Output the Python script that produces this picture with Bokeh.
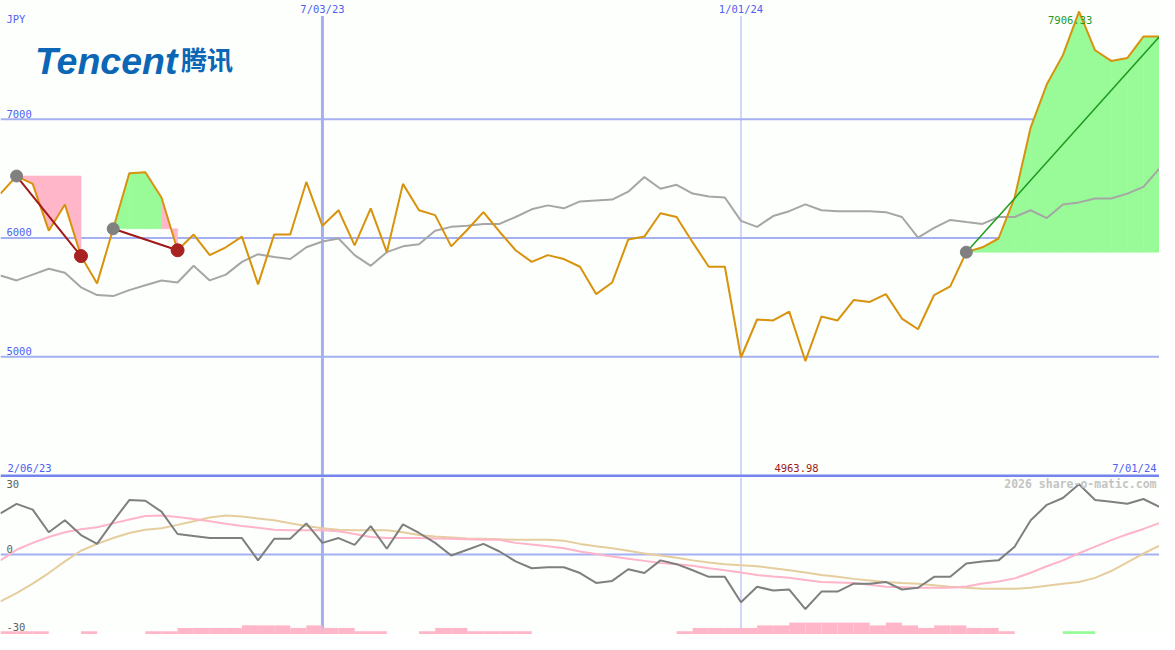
from bokeh.plotting import figure
from bokeh.layouts import column
from bokeh.embed import file_html
from bokeh.resources import INLINE
from bokeh.core.properties import value
from bokeh.models import Range1d

# ---------------- data ----------------
N = 73
idx = list(range(N))

price = [6374, 6522, 6456, 6062, 6283, 5848, 5618, 6078, 6546, 6554,
         6341, 5897, 6029, 5856, 5922, 6012, 5610, 6029, 6029, 6472,
         6103, 6234, 5938, 6250, 5881, 6456, 6234, 6193, 5930, 6070,
         6218, 6053, 5897, 5799, 5856, 5823, 5758, 5528, 5626, 5988,
         6012, 6209, 6177, 5963, 5758, 5758, 4994, 5314, 5306, 5380,
         4963.98, 5339, 5306, 5478, 5462, 5528, 5322, 5232, 5520, 5593,
         5881, 5922, 5996, 6341, 6932, 7294, 7540, 7906.33, 7581, 7491,
         7515, 7696, 7696]

bench = [5684, 5643, 5692, 5741, 5708, 5585, 5520, 5511, 5561, 5602,
         5643, 5626, 5766, 5643, 5692, 5799, 5864, 5840, 5823, 5922,
         5971, 5996, 5856, 5766, 5881, 5930, 5947, 6062, 6094, 6103,
         6119, 6119, 6177, 6242, 6275, 6250, 6308, 6316, 6324, 6390,
         6513, 6415, 6448, 6374, 6349, 6341, 6144, 6094, 6185, 6226,
         6283, 6234, 6226, 6226, 6226, 6218, 6177, 6004, 6086, 6152,
         6135, 6119, 6177, 6177, 6234, 6168, 6283, 6300, 6333, 6333,
         6374, 6431, 6587]

momentum = [16.2, 20.0, 17.7, 8.8, 13.5, 7.7, 4.2, 13.1, 21.5, 21.2,
            16.9, 8.1, 7.3, 6.5, 6.5, 6.5, -2.3, 6.2, 6.2, 12.3,
            4.6, 6.5, 3.8, 11.2, 2.3, 11.9, 8.5, 4.6, -0.4, 1.9,
            4.2, 1.2, -2.7, -5.4, -5.0, -5.0, -7.3, -11.2, -10.4, -5.8,
            -7.3, -2.3, -3.8, -6.2, -8.8, -8.8, -18.8, -12.7, -14.2, -13.8,
            -21.5, -14.6, -14.6, -11.5, -11.5, -10.8, -13.8, -13.1, -8.8, -8.8,
            -3.5, -2.7, -2.3, 3.1, 13.5, 19.6, 22.3, 27.7, 21.5, 20.8,
            20.0, 21.9, 18.8]

ma_fast = [-2.3, 1.9, 4.6, 6.9, 8.8, 10.0, 10.8, 12.3, 13.8, 15.2,
           15.4, 14.8, 14.0, 13.1, 12.1, 11.3, 10.6, 9.8, 9.6, 9.6,
           9.6, 9.2, 8.1, 6.9, 6.5, 6.5, 6.5, 6.3, 6.2, 6.0,
           5.8, 5.8, 4.6, 4.0, 3.3, 2.5, 1.2, 0.2, -0.8, -1.7,
           -2.5, -3.3, -3.8, -4.4, -5.4, -6.2, -7.1, -8.1, -8.7, -9.2,
           -10.0, -10.8, -11.0, -11.2, -11.9, -12.7, -12.9, -13.1, -13.1, -13.1,
           -12.6, -11.4, -10.6, -9.4, -7.2, -4.6, -2.3, 0.5, 3.1, 5.7,
           8.0, 10.1, 12.4]

ma_slow = [-18.5, -15.2, -11.5, -7.3, -2.7, 1.5, 4.2, 6.5, 8.5, 9.8,
           10.4, 11.7, 13.1, 14.6, 15.4, 15.0, 14.2, 13.5, 12.3, 11.3,
           10.4, 9.8, 9.6, 9.6, 9.6, 8.8, 7.7, 7.1, 6.7, 6.3,
           6.2, 6.0, 5.8, 5.8, 5.8, 5.4, 4.2, 3.3, 2.5, 1.5,
           0.4, -0.4, -1.3, -2.3, -3.1, -3.8, -4.2, -4.6, -5.4, -6.2,
           -7.1, -8.1, -8.8, -9.6, -10.2, -10.8, -11.2, -11.5, -12.1, -12.7,
           -13.1, -13.5, -13.5, -13.5, -13.1, -12.3, -11.5, -10.8, -9.2, -6.5,
           -3.1, 0.4, 3.5]

# bar heights per weekly interval (72 intervals)
hist_loss = [1.3, 1.3, 1.3, 0, 0, 1.3, 0, 0, 0, 1.3,
             1.3, 2.6, 2.6, 2.6, 2.6, 3.6, 3.6, 3.6, 2.6, 3.6,
             2.6, 2.6, 1.3, 1.3, 0, 0, 1.3, 2.6, 2.6, 1.3,
             1.3, 1.3, 1.3, 0, 0, 0, 0, 0, 0, 0,
             0, 0, 1.3, 2.6, 2.6, 2.6, 2.6, 3.6, 3.6, 4.7,
             4.7, 4.7, 4.7, 4.7, 3.6, 4.7, 3.6, 2.6, 3.6, 3.6,
             2.6, 2.6, 1.3, 0, 0, 0, 0, 0, 0, 0,
             0, 0]
hist_gain = [0] * 66 + [1.3, 1.3] + [0] * 4

period_start = [1, 7, 60]
period_end = [5, 11, 72]

grid_main = [5000, 6000, 7000]
grid_main_labels = ["5000", "6000", "7000"]
date_idx = [20, 46]
date_labels = ["7/03/23", "1/01/24"]
date_widths = [3, 1]
start_label = "2/06/23"
end_label = "7/01/24"
lower_labels = ["30", "0", "-30"]

# ---------------- style ----------------
BG = "#fcfffc"
GRID = "#a4b0f2"
THICK = "#7584ec"
LABEL = "#5060f0"
ORANGE = "#d8920c"
BENCH = "#a6a6a6"
GAIN = "#98fb98"
LOSS = "#ffb6c8"
MONO = "DejaVu Sans Mono"

W = 1159
H1 = 477
H2 = 157
REF_W = 1175.0


def X(px):
    return px / REF_W * (N - 1)


def YM(py):
    return 8000 - py * 4000.0 / 487.0


def YL(py):
    return (568 - py) / 2.6


def make_fig(h, y0, y1):
    f = figure(width=W, height=h, output_backend="svg", toolbar_location=None,
               x_axis_location=None, y_axis_location=None, min_border=0,
               x_range=Range1d(0, N - 1), y_range=Range1d(y0, y1))
    f.outline_line_color = None
    f.background_fill_color = BG
    f.border_fill_color = BG
    f.grid.visible = False
    return f


# ---------------- main panel ----------------
p = make_fig(H1, YM(489), YM(0))

# gridlines
p.segment(x0=[0] * 3, x1=[N - 1] * 3, y0=grid_main, y1=grid_main,
          line_color=GRID, line_width=2)
p.segment(x0=date_idx, x1=date_idx, y0=[YM(16)] * 2, y1=[YM(489)] * 2,
          line_color=GRID, line_width=date_widths)

# fills for periods
for s, e in zip(period_start, period_end):
    base = price[s]
    xs, ys, cols = [], [], []
    for j in range(s, e):
        xs.append([j, j, j + 1, j + 1])
        ys.append([base, price[j], price[j + 1], base])
        cols.append(GAIN if price[j + 1] >= base else LOSS)
    p.patches(xs, ys, fill_color=cols, line_color=cols, line_width=0.6)

p.line(idx, bench, line_color=BENCH, line_width=2)
p.line(idx, price, line_color=ORANGE, line_width=2)

for s, e in zip(period_start, period_end):
    gain = price[e] >= price[s]
    p.segment(x0=[s], y0=[price[s]], x1=[e], y1=[price[e]],
              line_color="#1f9a1f" if gain else "#a01818",
              line_width=1.5 if gain else 2)
    p.scatter([s], [price[s]], size=12, color="#808080")
    if not gain:
        p.scatter([e], [price[e]], size=13, color="#a82222")

# bottom separator
p.segment(x0=[0], x1=[N - 1], y0=[YM(487.5)], y1=[YM(487.5)],
          line_color=THICK, line_width=3)

# texts
p.text(x=[X(6)] * 3, y=[YM(122 + (7000 - v) * 0.1215 - 6) for v in grid_main],
       text=grid_main_labels, text_font=value(MONO), text_font_size="10.5px",
       text_color=LABEL, text_baseline="middle", text_align="left")
p.text(x=[X(6)], y=[YM(19)], text=["JPY"], text_font=value(MONO),
       text_font_size="10.5px", text_color=LABEL, text_baseline="middle")
p.text(x=date_idx, y=[YM(9)] * 2, text=date_labels, text_font=value(MONO),
       text_font_size="10.5px", text_color=LABEL, text_baseline="middle",
       text_align="center")
p.text(x=[X(7)], y=[YM(479)], text=[start_label], text_font=value(MONO),
       text_font_size="10.5px", text_color=LABEL, text_baseline="middle")
p.text(x=[X(1172)], y=[YM(479)], text=[end_label], text_font=value(MONO),
       text_font_size="10.5px", text_color=LABEL, text_baseline="middle",
       text_align="right")

imin = min(range(N), key=lambda i: price[i])
imax = max(range(N), key=lambda i: price[i])
p.text(x=[imin - 0.55], y=[YM(479)], text=[f"{price[imin]:.2f}"],
       text_font=value(MONO), text_font_size="10.5px", text_color="#a01818",
       text_baseline="middle", text_align="center")
p.text(x=[imax - 0.55], y=[YM(20)], text=[f"{price[imax]:.2f}"],
       text_font=value(MONO), text_font_size="10.5px", text_color="#1f9a1f",
       text_baseline="middle", text_align="center")

# logo
p.text(x=[X(35)], y=[YM(62)], text=["Tencent"],
       text_font=value("Liberation Sans"), text_font_style="bold italic",
       text_font_size="37.5px", text_color="#0c66b6", text_baseline="alphabetic")
p.text(x=[X(183)], y=[YM(59)], text=["腾讯"],
       text_font=value("Noto Sans CJK SC"), text_font_style="bold",
       text_font_size="26px", text_color="#0c66b6", text_baseline="alphabetic")

# ---------------- lower panel ----------------
q = make_fig(H2, YL(650), YL(489))

q.segment(x0=[0], x1=[N - 1], y0=[0], y1=[0], line_color=GRID, line_width=2)
q.segment(x0=date_idx, x1=date_idx, y0=[YL(650)] * 2, y1=[YL(489)] * 2,
          line_color=GRID, line_width=date_widths)

hb = YL(650)
q.quad(left=idx[:-1], right=idx[1:], bottom=[hb - 1] * (N - 1),
       top=[hb + h if h > 0 else hb - 1 for h in hist_loss],
       fill_color=LOSS, line_color=None)
q.quad(left=idx[:-1], right=idx[1:], bottom=[hb - 1] * (N - 1),
       top=[hb + h if h > 0 else hb - 1 for h in hist_gain],
       fill_color=GAIN, line_color=None)

q.line(idx, ma_slow, line_color="#e6cd9e", line_width=2)
q.line(idx, ma_fast, line_color="#ffb4c8", line_width=2)
q.line(idx, momentum, line_color="#7f7f7f", line_width=2)

q.text(x=[X(6)] * 3, y=[YL(496), YL(562), YL(642)], text=lower_labels,
       text_font=value(MONO), text_font_size="10.5px", text_color="#606060",
       text_baseline="middle")
q.text(x=[X(1172)], y=[YL(496)], text=["2026 share-o-matic.com"],
       text_font=value(MONO), text_font_style="bold", text_font_size="11.5px",
       text_color="#c4c4c4", text_baseline="middle", text_align="right")

layout = column(p, q, spacing=0)
open("out.html", "w").write(file_html(layout, INLINE))
